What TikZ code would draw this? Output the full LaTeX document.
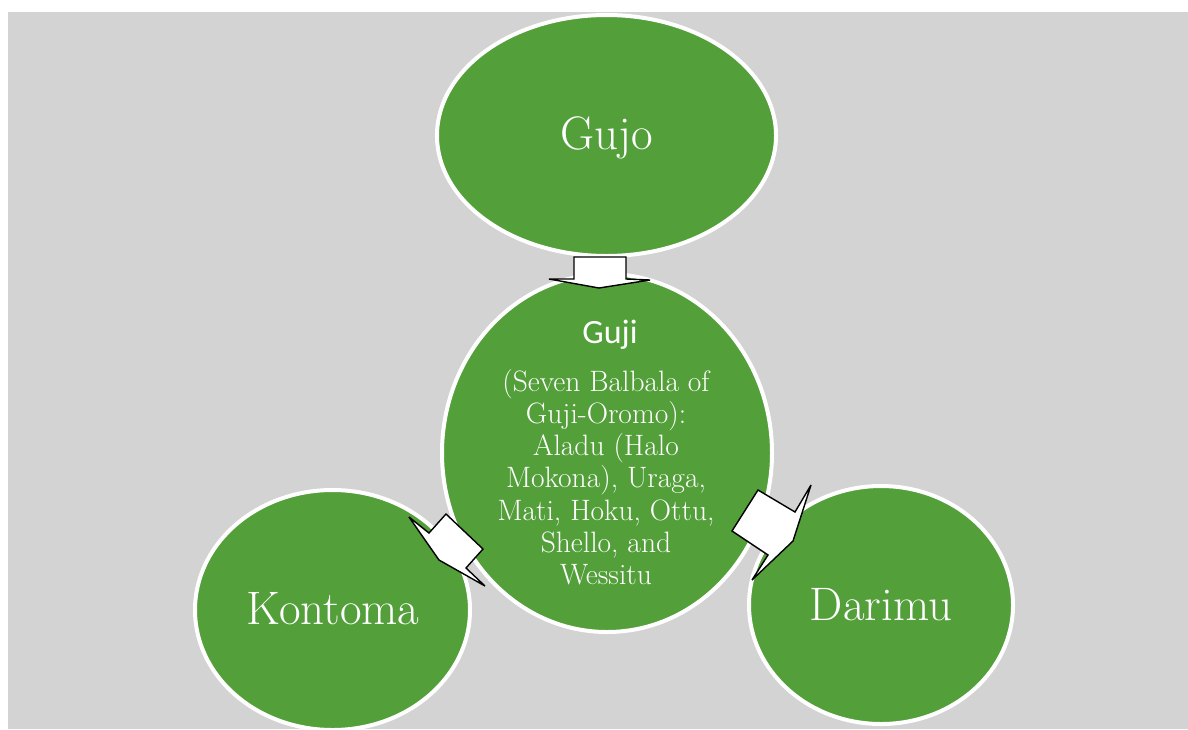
\documentclass[tikz,border=0pt]{standalone}
\usepackage{fontspec}
\newfontfamily\calfont{Carlito}
\usetikzlibrary{shapes.geometric}
\definecolor{bggray}{RGB}{211,211,211}
\definecolor{leafgreen}{RGB}{83,159,58}
\begin{document}
\begin{tikzpicture}[x=1pt,y=-1pt,
  bubble/.style={ellipse, fill=leafgreen, draw=white, line width=4pt, inner sep=0pt},
  blockarrow/.style={fill=white, draw=black, line width=1.4pt, line join=miter, miter limit=6},
  bigname/.style={text=white, inner sep=0pt, anchor=base, font=\fontsize{47}{54}\selectfont},
  bodytext/.style={text=white, inner sep=0pt, align=center, font=\fontsize{29.5}{32.2}\selectfont},
  headtext/.style={text=white, inner sep=0pt, anchor=base, font=\calfont\fontsize{34}{40}\selectfont}
]
\useasboundingbox (0,0) rectangle (1188,729);
\fill[bggray] (8,12) rectangle (1188,729);

\node[bubble, minimum width=339pt, minimum height=241pt] (gujo) at (606.5,135.5) {};
\node[bubble, minimum width=330pt, minimum height=358pt] (guji) at (607,453) {};
\node[bubble, minimum width=275pt, minimum height=240pt] (kontoma) at (332.5,610) {};
\node[bubble, minimum width=264pt, minimum height=238pt] (darimu) at (881,605) {};

\node[bigname] (gujolabel) at (606.5,149) {Gujo};
\node[bigname] (kontomalabel) at (333,624) {Kontoma};
\node[bigname] (darimulabel) at (881,620) {Darimu};
\node[headtext] (gujihead) at (610,343) {Guji};
\node[bodytext] (gujibody) at (606,477) {(Seven Balbala of\\Guji-Oromo):\\Aladu (Halo\\Mokona), Uraga,\\Mati, Hoku, Ottu,\\Shello, and\\Wessitu};

% block arrows
\draw[blockarrow] (574,257) -- (626,257) -- (626,279) -- (650,280) -- (599,288) -- (549,279) -- (574,279) -- cycle;
\draw[blockarrow] (409,517) -- (429,533) -- (446,514) -- (483,549) -- (466,568) -- (485,586) -- (439,560) -- cycle;
\draw[blockarrow] (758,490) -- (795,512) -- (811,485) -- (793,541) -- (752,580) -- (768,555) -- (732,531) -- cycle;
\end{tikzpicture}
\end{document}
